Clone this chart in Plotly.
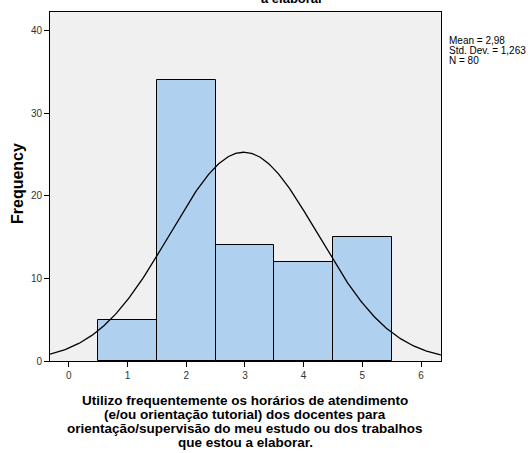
import numpy as np
import plotly.graph_objects as go

categories = [1, 2, 3, 4, 5]
frequencies = [5, 34, 14, 12, 15]
mean_val = 2.98
std_val = 1.263
n_val = 80
x_ticks = [0, 1, 2, 3, 4, 5, 6]
y_ticks = [0, 10, 20, 30, 40]
x_title_lines = [
    "Utilizo frequentemente os horários de atendimento",
    "(e/ou orientação tutorial) dos docentes para",
    "orientação/supervisão do meu estudo ou dos trabalhos",
    "que estou a elaborar.",
]
stats_lines = [
    f"Mean = {str(mean_val).replace('.', ',')}",
    f"Std. Dev. = {str(std_val).replace('.', ',')}",
    f"N = {n_val}",
]

x_range = [-0.32, 6.34]
y_range = [0, 42.25]

xs = np.linspace(x_range[0], x_range[1], 300)
curve = n_val * 1.0 / (std_val * np.sqrt(2 * np.pi)) * np.exp(-0.5 * ((xs - mean_val) / std_val) ** 2)

fig = go.Figure()
fig.add_trace(go.Bar(
    x=categories, y=frequencies, width=1,
    marker=dict(color="#AFD0EE", line=dict(color="black", width=1)),
    showlegend=False, hoverinfo="skip"))
fig.add_trace(go.Scatter(
    x=xs, y=curve, mode="lines", line=dict(color="black", width=1.3),
    showlegend=False, hoverinfo="skip"))

font = "Liberation Sans, Arial, sans-serif"
L, T, PW, PH = 50, 12, 391, 349


def px_x(x):
    return (x - L) / PW


def px_y(y):
    return 1 - (y - T) / PH


fig.update_layout(
    width=528, height=453,
    margin=dict(l=50, r=87, t=12, b=92, autoexpand=False),
    paper_bgcolor="white", plot_bgcolor="#F0F0F0",
    font=dict(family=font, size=10, color="#222"),
    bargap=0,
    xaxis=dict(range=x_range, tickvals=x_ticks, ticks="outside", ticklen=5,
               tickcolor="black", showgrid=False, zeroline=False, automargin=False,
               showline=True, linecolor="black", linewidth=1, mirror=True,
               tickfont=dict(size=10, color="#333")),
    yaxis=dict(range=y_range, tickvals=y_ticks, ticks="outside", ticklen=5,
               tickcolor="black", showgrid=False, zeroline=False, automargin=False,
               showline=True, linecolor="black", linewidth=1, mirror=True,
               tickfont=dict(size=10, color="#333"), ticklabelstandoff=0),
)

# y-axis title
fig.add_annotation(
    text="<b>Frequency</b>", xref="paper", yref="paper",
    x=px_x(17), y=px_y(184), xanchor="center", yanchor="middle",
    textangle=-90, showarrow=False, font=dict(size=16, color="black", family=font))

# x-axis title, one line per annotation for tight line spacing
for i, line in enumerate(x_title_lines):
    fig.add_annotation(
        text=f"<b>{line}</b>", xref="paper", yref="paper",
        x=px_x(245), y=px_y(391 + 14 * i), xanchor="center", yanchor="top",
        showarrow=False, font=dict(size=13.5, color="black", family=font))

# clipped chart title at the top
fig.add_annotation(
    text="<b>a elaborar</b>", xref="paper", yref="paper",
    x=px_x(292), y=px_y(8), xanchor="center", yanchor="bottom",
    showarrow=False, font=dict(size=13, color="black", family=font))

# statistics box
for i, line in enumerate(stats_lines):
    fig.add_annotation(
        text=line, xref="paper", yref="paper",
        x=px_x(447), y=px_y(32.5 + 10 * i), xanchor="left", yanchor="top",
        showarrow=False, align="left",
        font=dict(size=10, color="black", family=font))

fig.write_html("out.html", post_script="document.body.style.margin='0';",
               config={"displayModeBar": False})
